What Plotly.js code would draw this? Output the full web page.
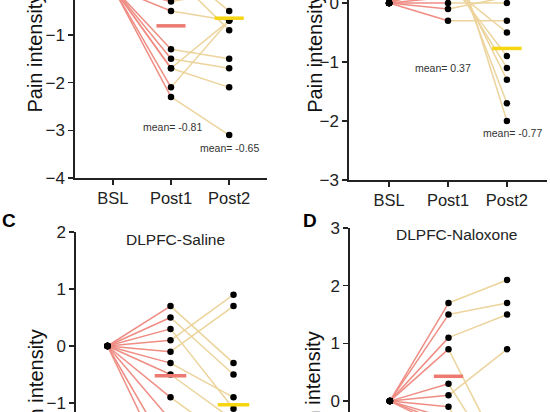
<!DOCTYPE html>
<html>
<head>
<meta charset="utf-8">
<script src="https://cdn.plot.ly/plotly-3.0.1.min.js"></script>
<style>
html,body{margin:0;padding:0;width:550px;height:412px;overflow:hidden;background:#fff;}
#plot{position:absolute;left:0;top:-150px;width:550px;height:800px;}
</style>
</head>
<body>
<div id="plot"></div>
<script>
// ---- data ----
const categories = ['BSL', 'Post1', 'Post2'];

// Panel A (top-left)
const post1A = [0.8, 0.5, 0.3, 0.1, -0.3, -0.5, -1.3, -1.5, -1.7, -1.7, -2.1, -2.3];
const post2A = [2.0, -0.5, -0.9, 1.7, -0.1, -0.7, -1.5, -1.7, -2.1, -0.7, -0.7, -3.1];
const meanA = [-0.81, -0.65];
const meanTextA = ['mean= -0.81', 'mean= -0.65'];

// Panel B (top-right)
const post1B = [1.2, 0.9, 0.7, 0.5, 0.4, 0.3, 0.1, 0.0, -0.1, -0.3];
const post2B = [-2.0, -1.7, -1.3, -1.1, -0.9, -0.5, 0.1, 0.0, 0.1, -0.3];
const meanB = [0.37, -0.77];
const meanTextB = ['mean= 0.37', 'mean= -0.77'];

// Panel C (bottom-left)
const post1C = [0.7, 0.5, 0.3, 0.1, -0.1, -0.3, -0.5, -0.9, -1.3, -1.9, -2.3];
const post2C = [-0.3, -0.5, -1.1, 0.9, 0.7, -0.9, -1.3, -1.7, -2.1, -2.3, -2.7];
const meanC = [-0.52, -1.03];

// Panel D (bottom-right)
const post1D = [1.7, 1.5, 1.1, 0.9, 0.3, 0.1, -0.1, -0.3, -0.4, -0.5];
const post2D = [2.1, 1.7, 1.5, -1.1, -1.3, 0.9, -1.7, -1.5, -1.9, -2.2];
const meanD = [0.43, -0.35];

const panelTitles = ['DLPFC-Saline', 'DLPFC-Naloxone'];
const panelLetters = ['C', 'D'];
const yTitle = 'Pain intensity';

// ---- styles ----
const RED = '#ef8d84';
const RED_BAR = '#ec7a70';
const YEL = '#ecd49c';
const YEL_BAR = '#f6d513';
const FONT = 'Liberation Sans, Arial, Helvetica, sans-serif';

function panel(p1, p2, means, xa, ya) {
  const rx = [], ry = [], yx = [], yy = [];
  const mx = [], my = [];
  for (let i = 0; i < p1.length; i++) {
    rx.push(0, 1, null); ry.push(0, p1[i], null);
    yx.push(1, 2, null); yy.push(p1[i], p2[i], null);
  }
  for (let i = 0; i < p1.length; i++) { mx.push(0); my.push(0); }
  for (let i = 0; i < p1.length; i++) { mx.push(1); my.push(p1[i]); }
  for (let i = 0; i < p2.length; i++) { mx.push(2); my.push(p2[i]); }
  return [
    {x: rx, y: ry, xaxis: xa, yaxis: ya, mode: 'lines', line: {color: RED, width: 1.5}, hoverinfo: 'skip'},
    {x: yx, y: yy, xaxis: xa, yaxis: ya, mode: 'lines', line: {color: YEL, width: 1.5}, hoverinfo: 'skip'},
    {x: mx, y: my, xaxis: xa, yaxis: ya, mode: 'markers', marker: {color: '#000', size: 6.5}, cliponaxis: false},
    {x: [0.75, 1.25], y: [means[0], means[0]], xaxis: xa, yaxis: ya, mode: 'lines', line: {color: RED_BAR, width: 3.5}},
    {x: [1.75, 2.25], y: [means[1], means[1]], xaxis: xa, yaxis: ya, mode: 'lines', line: {color: YEL_BAR, width: 3.5}}
  ];
}

const data = [].concat(
  panel(post1A, post2A, meanA, 'x', 'y'),
  panel(post1B, post2B, meanB, 'x2', 'y2'),
  panel(post1C, post2C, meanC, 'x3', 'y3'),
  panel(post1D, post2D, meanD, 'x4', 'y4')
);

const W = 550, H = 800, OFF = 150;
const px = v => v / W;
const py = v => 1 - (v + OFF) / H;

function xax(domain, range, anchor) {
  return {
    domain: domain, range: range, anchor: anchor,
    tickmode: 'array', tickvals: [0, 1, 2], ticktext: categories,
    showline: true, linecolor: '#222', linewidth: 1.6,
    ticks: 'outside', ticklen: 5, tickwidth: 1.5, tickcolor: '#222',
    showgrid: false, zeroline: false, fixedrange: true,
    tickfont: {family: FONT, size: 16.5, color: '#222'}
  };
}
function yax(domain, range, anchor) {
  return {
    domain: domain, range: range, anchor: anchor, dtick: 1, tick0: 0,
    showline: true, linecolor: '#222', linewidth: 1.6,
    ticks: 'outside', ticklen: 5, tickwidth: 1.5, tickcolor: '#222',
    showgrid: false, zeroline: false, fixedrange: true,
    tickfont: {family: FONT, size: 17, color: '#222'}
  };
}

const layout = {
  width: W, height: H,
  margin: {l: 0, r: 0, t: 0, b: 0},
  paper_bgcolor: '#fff', plot_bgcolor: '#fff',
  showlegend: false,
  xaxis:  xax([px(75), px(267)], [-0.65, 2.65], 'y'),
  yaxis:  yax([py(178), py(178 - 6 * 47.7)], [-4, 2], 'x'),
  xaxis2: xax([px(349), px(547)], [-0.68, 2.68], 'y2'),
  yaxis2: yax([py(180), py(180 - 5 * 59)], [-3, 2], 'x2'),
  xaxis3: xax([px(76), px(265)], [-0.5, 2.5], 'y3'),
  yaxis3: yax([py(232 + 5 * 57), py(232)], [-3, 2], 'x3'),
  xaxis4: xax([px(350), px(547)], [-0.68, 2.68], 'y4'),
  yaxis4: yax([py(228 + 5 * 57.7), py(228)], [-2, 3], 'x4'),
  annotations: [
    {text: meanTextA[0], xref: 'x', yref: 'y', x: 1.03, y: -2.93, showarrow: false, font: {family: FONT, size: 10.5, color: '#333'}},
    {text: meanTextA[1], xref: 'x', yref: 'y', x: 2.0, y: -3.37, showarrow: false, font: {family: FONT, size: 10.5, color: '#333'}},
    {text: meanTextB[0], xref: 'x2', yref: 'y2', x: 0.92, y: -1.10, showarrow: false, font: {family: FONT, size: 10.5, color: '#333'}},
    {text: meanTextB[1], xref: 'x2', yref: 'y2', x: 2.1, y: -2.20, showarrow: false, font: {family: FONT, size: 10.5, color: '#333'}},
    {text: yTitle, xref: 'paper', yref: 'y', x: px(35), y: -1.37, textangle: -90, showarrow: false, xanchor: 'center', yanchor: 'middle', font: {family: FONT, size: 20, color: '#111'}},
    {text: yTitle, xref: 'paper', yref: 'y2', x: px(315), y: -0.86, textangle: -90, showarrow: false, xanchor: 'center', yanchor: 'middle', font: {family: FONT, size: 20, color: '#111'}},
    {text: yTitle, xref: 'paper', yref: 'y3', x: px(36), y: -0.76, textangle: -90, showarrow: false, xanchor: 'center', yanchor: 'middle', font: {family: FONT, size: 20, color: '#111'}},
    {text: yTitle, xref: 'paper', yref: 'y4', x: px(313), y: 0.17, textangle: -90, showarrow: false, xanchor: 'center', yanchor: 'middle', font: {family: FONT, size: 20, color: '#111'}},
    {text: panelTitles[0], xref: 'paper', yref: 'paper', x: px(175), y: py(239), showarrow: false, xanchor: 'center', yanchor: 'middle', font: {family: FONT, size: 15.5, color: '#222'}},
    {text: panelTitles[1], xref: 'paper', yref: 'paper', x: px(456), y: py(234), showarrow: false, xanchor: 'center', yanchor: 'middle', font: {family: FONT, size: 15.5, color: '#222'}},
    {text: '<b>' + panelLetters[0] + '</b>', xref: 'paper', yref: 'paper', x: px(9), y: py(220), showarrow: false, xanchor: 'center', yanchor: 'middle', font: {family: FONT, size: 19, color: '#000'}},
    {text: '<b>' + panelLetters[1] + '</b>', xref: 'paper', yref: 'paper', x: px(310), y: py(220), showarrow: false, xanchor: 'center', yanchor: 'middle', font: {family: FONT, size: 19, color: '#000'}}
  ]
};

Plotly.newPlot('plot', data, layout, {displayModeBar: false, staticPlot: true});
</script>
</body>
</html>
